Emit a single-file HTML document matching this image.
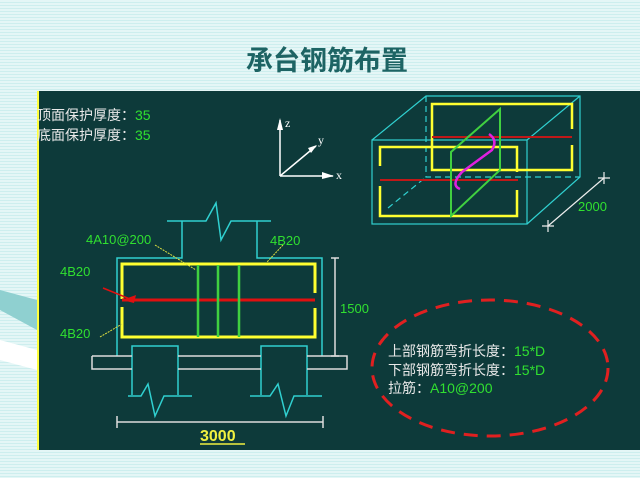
<!DOCTYPE html>
<html><head><meta charset="utf-8"><style>
body{margin:0;width:640px;height:478px;overflow:hidden;background:repeating-linear-gradient(#e4f6f6 0 2px,#cdeeee 2px 3px);}
</style></head><body>
<svg width="640" height="478" xmlns="http://www.w3.org/2000/svg" style="position:absolute;left:0;top:0">
<polygon points="0,290 37,300 37,330 0,310" fill="#8fd0d0"/>
<polygon points="0,340 37,350 37,370 0,360" fill="#ffffff"/>
<text x="327" y="70" font-family="Liberation Sans,'Noto Sans CJK SC',sans-serif" font-size="27" font-weight="bold" fill="#1d6464" text-anchor="middle">承台钢筋布置</text>
<rect x="37" y="91" width="603" height="359" fill="#0d3a3a"/>
<line x1="38" y1="91" x2="38" y2="450" stroke="#ffff40" stroke-width="2"/>
<g font-family="Liberation Sans,'Noto Sans CJK SC',sans-serif" font-size="14">
<text x="37" y="120" fill="#e8e8e8">顶面保护厚度：<tspan fill="#30e030">35</tspan></text>
<text x="37" y="140" fill="#e8e8e8">底面保护厚度：<tspan fill="#30e030">35</tspan></text>
</g>
<g stroke="#fff" stroke-width="1.5" fill="none">
<path d="M280,176 L280,120 M280,176 L333,176 M280,176 L316,146"/>
</g>
<g fill="#fff"><polygon points="277,130 280,118 283,130"/><polygon points="322,172 334,176 322,179"/><polygon points="308,148 317,145 311,153"/></g>
<g font-family="Liberation Serif,serif" font-size="12" fill="#fff"><text x="285" y="127">z</text><text x="318" y="144">y</text><text x="336" y="179">x</text></g>
<!-- front view -->
<g stroke="#30d0d0" stroke-width="1.5" fill="none">
<path d="M167,221 H206 L216,203 L221,240 L231,221 H271"/>
<path d="M182,221 V258 H117 V356 M257,221 V258 H322 V356"/>
<path d="M132,395 V346 H178 V395 M128,396 H141 L148,384 L155,416 L164,396 H192"/>
<path d="M261,395 V346 H307 V395 M250,396 H270 L278,384 L286,416 L294,396 H322"/>
</g>
<g stroke="#ddd" stroke-width="1.5" fill="none">
<path d="M92,356 H132 M178,356 H261 M307,356 H347 V369 H307 M261,369 H178 M132,369 H92 V356"/>
<path d="M117,422 H323 M117,416 V428 M323,416 V428 M335,258 V356 M331,258 H339 M331,356 H339"/>
</g>
<g stroke="#ffff30" stroke-width="3" fill="none">
<path d="M122,299 V264 H315 V293 M122,307 V337 H315 V308"/>
</g>
<line x1="122" y1="300" x2="315" y2="300" stroke="#e01010" stroke-width="3"/>
<polygon points="122,300 136,295 134,303" fill="#e01010"/>
<line x1="103" y1="288" x2="130" y2="299" stroke="#e01010" stroke-width="1.5"/>
<g stroke="#40d040" stroke-width="2.5"><line x1="198" y1="265" x2="198" y2="337"/><line x1="218" y1="265" x2="218" y2="337"/><line x1="239" y1="265" x2="239" y2="337"/></g>
<g stroke="#e0e040" stroke-width="1" stroke-dasharray="2,1"><line x1="155" y1="245" x2="196" y2="270"/><line x1="283" y1="245" x2="267" y2="262"/><line x1="100" y1="337" x2="122" y2="324"/></g>
<g font-family="Liberation Sans,sans-serif" font-size="13" fill="#30e030">
<text x="86" y="244">4A10@200</text><text x="270" y="245">4B20</text><text x="60" y="276">4B20</text><text x="60" y="338">4B20</text><text x="340" y="313">1500</text>
</g>
<text x="200" y="441" font-family="Liberation Sans,sans-serif" font-size="16" font-weight="bold" fill="#f0f040">3000</text>
<line x1="200" y1="444" x2="245" y2="444" stroke="#f0f040" stroke-width="1.5"/>
<!-- 3D -->
<g stroke="#30d0d0" stroke-width="1.2" fill="none">
<rect x="372" y="140" width="155" height="84"/>
<path d="M372,140 L426,96 H580 V177 L527,224 M527,140 L580,96"/>
<path d="M426,96 V177 H580" stroke-dasharray="6,4"/>
<path d="M388,208 L426,177" stroke-dasharray="6,4"/>
</g>
<g stroke="#ffff30" stroke-width="2.5" fill="none">
<path d="M572,129 V104 H432 V170 H572 V145"/>
<path d="M517,172 V147 H380 V166 M380,186 V216 H517 V190"/>
</g>
<g stroke="#c01818" stroke-width="2"><line x1="432" y1="137" x2="572" y2="137"/><line x1="380" y1="180" x2="518" y2="180"/></g>
<path d="M451,216 V152 L500,109 V170 Z" stroke="#40d040" stroke-width="2" fill="none"/>
<path d="M489,134 Q498,140 492,150 L462,172 Q450,185 460,189" stroke="#e020e0" stroke-width="2.5" fill="none"/>
<g stroke="#eee" stroke-width="1.2"><line x1="548" y1="226" x2="604" y2="178"/><path d="M598,178 H610 M604,172 V184 M542,226 H554 M548,220 V232"/></g>
<text x="578" y="211" font-family="Liberation Sans,sans-serif" font-size="13" fill="#30e030">2000</text>
<ellipse cx="490" cy="368" rx="118" ry="68" fill="none" stroke="#e02020" stroke-width="3" stroke-dasharray="14,9"/>
<g font-family="Liberation Sans,'Noto Sans CJK SC',sans-serif" font-size="14" fill="#e8e8e8">
<text x="388" y="356">上部钢筋弯折长度：<tspan fill="#30e030">15*D</tspan></text>
<text x="388" y="375">下部钢筋弯折长度：<tspan fill="#30e030">15*D</tspan></text>
<text x="388" y="393">拉筋：<tspan fill="#30e030">A10@200</tspan></text>
</g>
</svg>
</body></html>
